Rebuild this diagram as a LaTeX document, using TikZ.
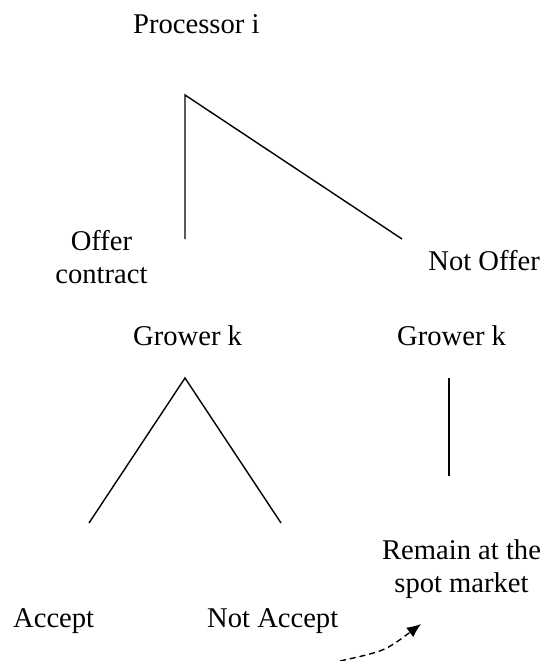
\documentclass[tikz,border=0pt]{standalone}
\usepackage{fontspec}
\setmainfont{Liberation Serif}
\usetikzlibrary{arrows.meta}
\begin{document}
\begin{tikzpicture}[x=1pt,y=-1pt,
  lbl/.style={inner sep=0pt, font=\fontsize{28.6}{34}\selectfont},
  lbltwo/.style={lbl, align=center, font=\fontsize{28.6}{33}\selectfont},
  branch/.style={line width=1.4pt},
  move/.style={line width=1.4pt, dash pattern=on 6pt off 4pt, -{Latex[length=14pt,width=12pt]}}]
\useasboundingbox (0,0) rectangle (546,661);
% labels
\node[lbl, anchor=base west] (proc) at (133,34) {Processor i};
\node[lbltwo, anchor=base] (offer) at (101.5,283) {Offer\\contract};
\node[lbl, anchor=base east] (notoffer) at (540,270) {Not Offer};
\node[lbl, anchor=base west] (growerL) at (133,345) {Grower k};
\node[lbl, anchor=base west] (growerR) at (397,345) {Grower k};
\node[lbltwo, anchor=base] (remain) at (461.5,592) {Remain at the\\spot market};
\node[lbl, anchor=base west] (accept) at (13,627) {Accept};
\node[lbl, anchor=base west] (notaccept) at (207,627) {Not Accept};
% branch points
\coordinate (p0) at (185,95);
\coordinate (pOffer) at (185,239);
\coordinate (pNot) at (402,239);
\coordinate (g0) at (185,378);
\coordinate (gAcc) at (89,523);
\coordinate (gNot) at (281,523);
\coordinate (h0) at (449,378);
\coordinate (h1) at (449,476);
\coordinate (aStart) at (340,661);
\coordinate (aEnd) at (421,624);
% branches
\draw[branch] (pOffer) -- (p0) -- (pNot);
\draw[branch] (gAcc) -- (g0) -- (gNot);
\draw[branch] (h0) -- (h1);
\draw[move] (aStart) .. controls (385,651) .. (aEnd);
\end{tikzpicture}
\end{document}
